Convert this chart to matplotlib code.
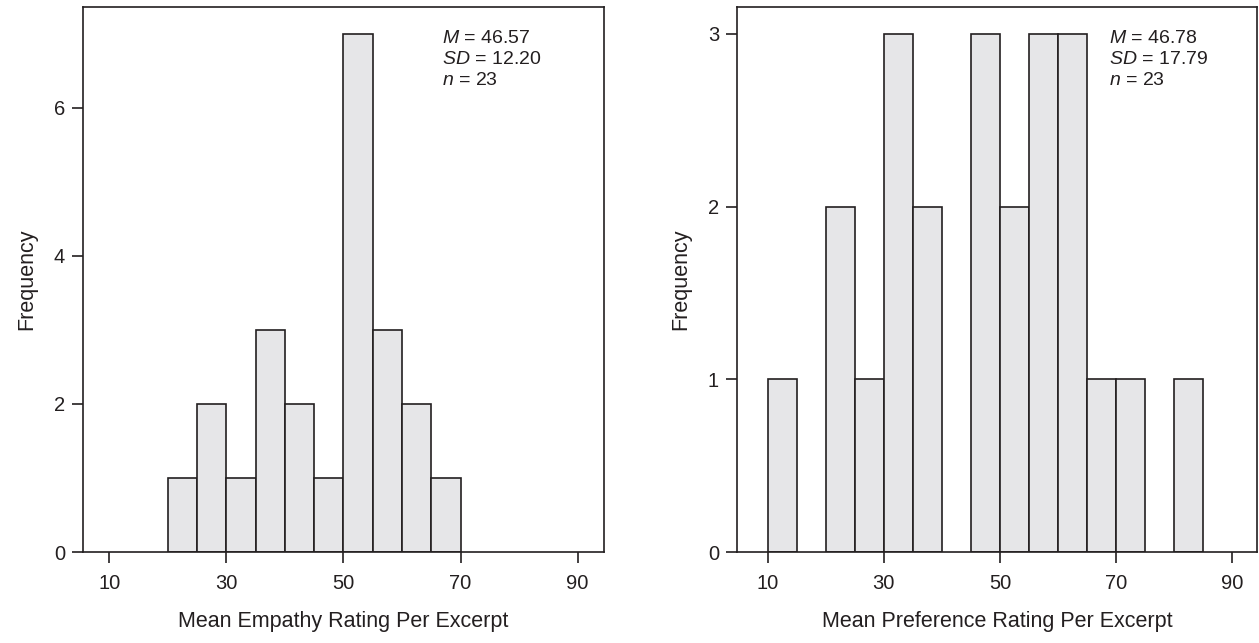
import numpy as np
import matplotlib
matplotlib.use("Agg")
import matplotlib.pyplot as plt

plt.rcParams["font.family"] = ["Liberation Sans", "DejaVu Sans"]
plt.rcParams["mathtext.fontset"] = "custom"
plt.rcParams["mathtext.rm"] = "Liberation Sans"
plt.rcParams["mathtext.it"] = "Liberation Sans:italic"

# bin left edges (width 5) and counts
empathy_bins = [20, 25, 30, 35, 40, 45, 50, 55, 60, 65]
empathy_counts = [1, 2, 1, 3, 2, 1, 7, 3, 2, 1]

pref_bins = [10, 15, 20, 25, 30, 35, 40, 45, 50, 55, 60, 65, 70, 75, 80]
pref_counts = [1, 0, 2, 1, 3, 2, 0, 3, 2, 3, 3, 1, 1, 0, 1]

empathy_stats = ["$\\it{M}$ = 46.57", "$\\it{SD}$ = 12.20", "$\\it{n}$ = 23"]
pref_stats = ["$\\it{M}$ = 46.78", "$\\it{SD}$ = 17.79", "$\\it{n}$ = 23"]

xticks = [10, 30, 50, 70, 90]
ink = "#231f20"
fill = "#e6e6e8"

fig = plt.figure(figsize=(12.59, 6.43), dpi=100)
ax1 = fig.add_axes([0.0659, 0.1415, 0.4138, 0.8476])
ax2 = fig.add_axes([0.5854, 0.1415, 0.4130, 0.8476])


def draw(ax, bins, counts, yticks, ylim, xlim, xlabel, stats, tx):
    b = np.array(bins)
    c = np.array(counts)
    keep = c > 0
    ax.bar(b[keep], c[keep], width=5, align="edge", color=fill,
           edgecolor=ink, linewidth=1.2, zorder=2)
    ax.set_xlim(*xlim)
    ax.set_ylim(*ylim)
    ax.set_xticks(xticks)
    ax.set_yticks(yticks)
    ax.tick_params(axis="both", labelsize=14.5, length=8, width=1.2,
                   color=ink, labelcolor=ink)
    ax.tick_params(axis="x", pad=8)
    ax.tick_params(axis="y", pad=5)
    for s in ax.spines.values():
        s.set_linewidth(1.2)
        s.set_color(ink)
    ax.set_xlabel(xlabel, fontsize=15.5, color=ink, labelpad=13)
    ax.set_ylabel("Frequency", fontsize=15.5, color=ink, labelpad=12)
    ax.text(tx, 0.957, "\n".join(stats), transform=ax.transAxes,
            fontsize=14, color=ink, va="top", ha="left", linespacing=1.3)


draw(ax1, empathy_bins, empathy_counts, [0, 2, 4, 6], (0, 7.36), (5.5, 94.5),
     "Mean Empathy Rating Per Excerpt", empathy_stats, 0.69)
draw(ax2, pref_bins, pref_counts, [0, 1, 2, 3], (0, 3.156), (4.7, 94.3),
     "Mean Preference Rating Per Excerpt", pref_stats, 0.715)

fig.savefig("out.png", dpi=100)
